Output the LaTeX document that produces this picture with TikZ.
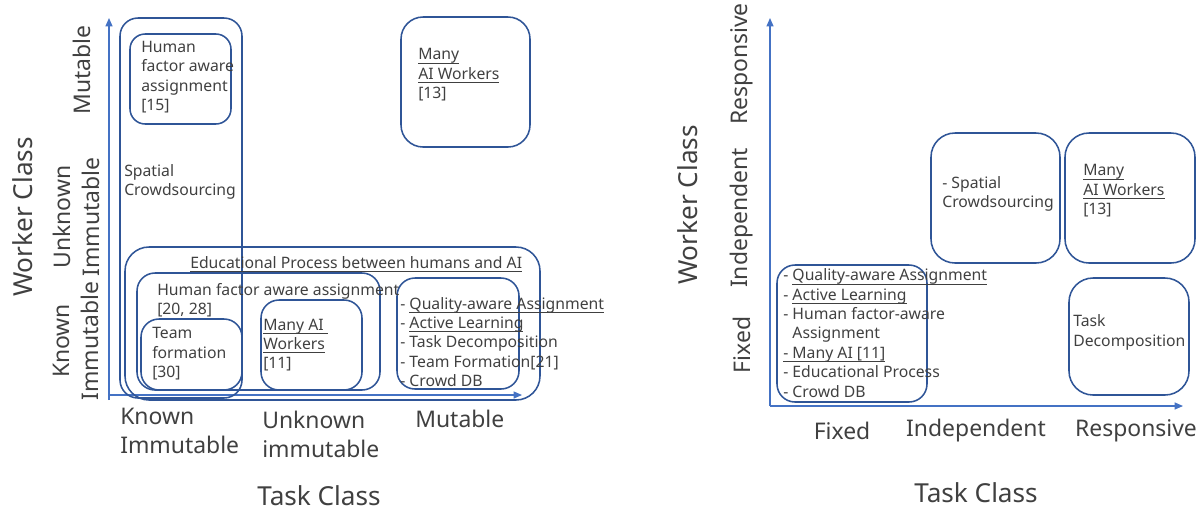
\documentclass[tikz,border=0pt]{standalone}
\usepackage{fontspec}
\setmainfont{Noto Sans}
\usepackage{tikz}
\usetikzlibrary{arrows.meta}
\definecolor{boxblue}{RGB}{47,85,151}
\definecolor{axisblue}{RGB}{68,114,196}
\definecolor{txt}{RGB}{64,64,64}
\newcommand{\smallfont}{\fontsize{11.2}{13.8}\selectfont}
\newcommand{\bigfont}{\fontsize{16.3}{20.6}\selectfont}
\newcommand{\titlefont}{\fontsize{18.6}{22}\selectfont}
\newcommand{\ulin}[1]{\setbox0\hbox{#1}\rlap{\rule[-2.6pt]{\wd0}{0.5pt}}\box0}
\tikzset{
    box/.style={draw=boxblue, line width=1.1pt, rounded corners=0.45cm},
    lbl/.style={text=txt, font=\smallfont, align=left, inner sep=0pt, anchor=west},
    axlbl/.style={text=txt, font=\bigfont, align=center, inner sep=0pt},
    axtitle/.style={text=txt, font=\titlefont, inner sep=0pt},
    axis/.style={draw=axisblue, line width=0.9pt, -{Triangle[length=6pt,width=5pt]}}
}

\begin{document}
\begin{tikzpicture}[x=0.025cm, y=-0.025cm]
        \useasboundingbox (0,0) rectangle (1201,508);

        % left chart
        \coordinate (lbot) at (109,400);
        \coordinate (ltop) at (109,18);
        \coordinate (lorig) at (108,395);
        \coordinate (lend) at (522,395);
        \draw[axis] (lbot) -- (ltop);
        \draw[axis] (lorig) -- (lend);

        \draw[box] (120,18) rectangle (242,398);
        \draw[box, rounded corners=0.38cm] (130,34) rectangle (231,124);
        \draw[box, rounded corners=0.6cm] (125,247) rectangle (540,400);
        \draw[box] (137,273) rectangle (380,390);
        \draw[box] (141,319) rectangle (242,390);
        \draw[box] (261,300) rectangle (362,390);
        \draw[box] (397,278) rectangle (519,389);
        \draw[box, rounded corners=0.55cm] (401,17) rectangle (530,147);

        \node[lbl] (hfa) at (141,77) {Human\\factor aware\\assignment\\{[15]}};
        \node[lbl] (spatial) at (124,182) {Spatial\\Crowdsourcing};
        \node[lbl] (edu) at (190,264) {\ulin{Educational Process between humans and AI}};
        \node[lbl] (hfb) at (157,300.5) {Human factor aware assignment\\{[20, 28]}};
        \node[lbl] (team) at (152,354) {Team\\formation\\{[30]}};
        \node[lbl] (manyA) at (263,345) {\ulin{Many AI }\\\ulin{Workers}\\{[11]}};
        \node[lbl] (listA) at (400,342) {- \ulin{Quality-aware Assignment}\\- \ulin{Active Learning}\\- Task Decomposition\\- Team Formation[21]\\- Crowd DB};
        \node[lbl] (manyB) at (418,75) {\ulin{Many}\\\ulin{AI Workers}\\{[13]}};

        \node[axlbl, rotate=90] (wmut) at (82,70) {Mutable};
        \node[axlbl, rotate=90] (wunk) at (76,217) {Unknown\\Immutable};
        \node[axlbl, rotate=90] (wkno) at (76,341) {Known\\Immutable};
        \node[axtitle, rotate=90] (wcls) at (23,217) {Worker Class};
        \node[axlbl, align=left, anchor=west] (tkno) at (120,430.5) {Known\\Immutable};
        \node[axlbl, align=left, anchor=west] (tunk) at (262,434.5) {Unknown\\immutable};
        \node[axlbl, anchor=west] (tmut) at (415,419) {Mutable};
        \node[axtitle] (tcls) at (319,496) {Task Class};

        % right chart
        \coordinate (rtop) at (770,18);
        \coordinate (rorig) at (770,406);
        \coordinate (rend) at (1183,406);
        \draw[axis] (rorig) -- (rtop);
        \draw[axis] (rorig) -- (rend);

        \draw[box] (777,265) rectangle (927,402);
        \draw[box, rounded corners=0.6cm] (931,133) rectangle (1060,263);
        \draw[box, rounded corners=0.6cm] (1065,133) rectangle (1195,263);
        \draw[box, rounded corners=0.6cm] (1069,278) rectangle (1189,395);

        \node[lbl] (listB) at (783,333) {- \ulin{Quality-aware Assignment}\\- \ulin{Active Learning}\\- Human factor-aware\\\hphantom{- }Assignment\\\ulin{- Many AI [11]}\\- Educational Process\\- Crowd DB};
        \node[lbl] (spatialB) at (942,194) {- Spatial\\Crowdsourcing};
        \node[lbl] (manyC) at (1083,191) {\ulin{Many}\\\ulin{AI Workers}\\{[13]}};
        \node[lbl] (decomp) at (1073,332.5) {Task\\Decomposition};

        \node[axlbl, rotate=90] (wfix) at (742,345) {Fixed};
        \node[axlbl, rotate=90] (wind) at (742,218) {Independent};
        \node[axlbl, rotate=90] (wres) at (742,64) {Responsive};
        \node[axtitle, rotate=90] (wclsB) at (688,205) {Worker Class};
        \node[axlbl] (tfix) at (842,431) {Fixed};
        \node[axlbl] (tind) at (976,431) {Independent};
        \node[axlbl] (tres) at (1136,431) {Responsive};
        \node[axtitle] (tclsB) at (976,493) {Task Class};
    \end{tikzpicture}
\end{document}
